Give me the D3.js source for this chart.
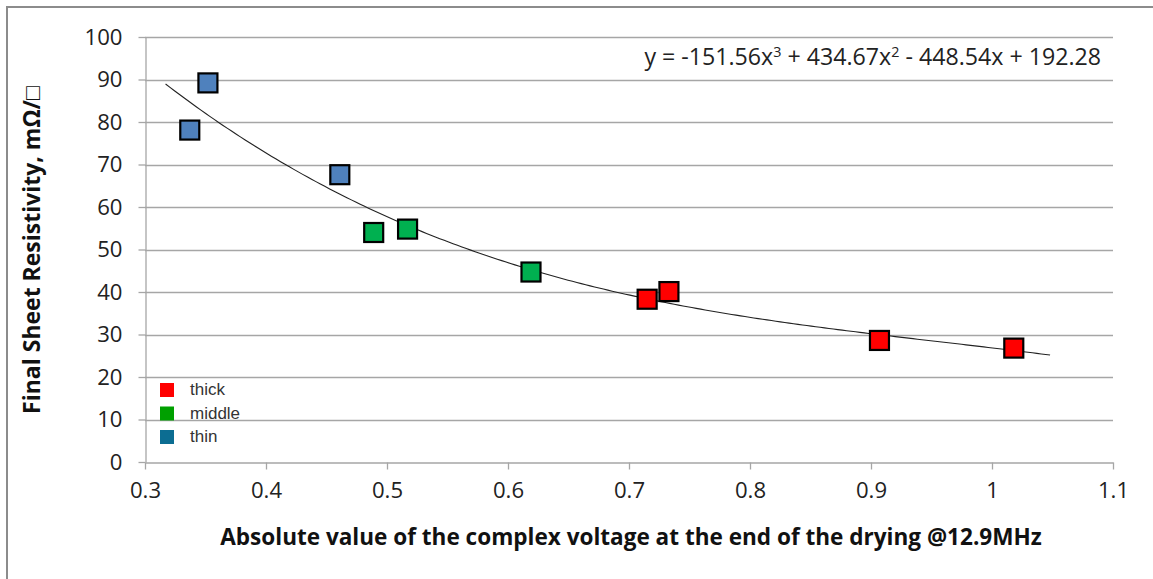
<!DOCTYPE html>
<html>
<head>
<meta charset="utf-8">
<script src="https://cdn.jsdelivr.net/npm/d3@7"></script>
<style>
  body { margin: 0; background: #fff; }
  text { font-family: "Open Sans", "Liberation Sans", sans-serif; }
</style>
</head>
<body>
<div id="chart"></div>
<script>
const width = 1153;
const height = 579;
const margin = { top: 37, right: 40, bottom: 117, left: 145 };

// data
const thinX = [0.337, 0.352, 0.461];
const thinY = [78.1, 89.2, 67.6];
const middleX = [0.489, 0.517, 0.619];
const middleY = [54.0, 54.8, 44.7];
const thickX = [0.715, 0.733, 0.907, 1.018];
const thickY = [38.3, 40.1, 28.6, 26.8];

// trendline coefficients as printed on the chart
const trendCoef = [-151.56, 434.67, -448.54, 192.28];
const trendRange = [0.317, 1.048];

const xTicks = [0.3, 0.4, 0.5, 0.6, 0.7, 0.8, 0.9, 1, 1.1];
const yTicks = [0, 10, 20, 30, 40, 50, 60, 70, 80, 90, 100];

const legendNames = ['thick', 'middle', 'thin'];
const legendColors = ['#ff0000', '#00a000', '#0c6d92'];

const series = [
    { name: 'thin', xs: thinX, ys: thinY, color: '#4f81bd' },
    { name: 'middle', xs: middleX, ys: middleY, color: '#00b050' },
    { name: 'thick', xs: thickX, ys: thickY, color: '#ff0000' }
];

// scale a text's font size so it spans the wanted width
function fitWidth(sel, target) {
    const node = sel.node();
    const size = parseFloat(sel.style('font-size'));
    const w = node.getComputedTextLength();
    const s = size * target / w;
    sel.style('font-size', s + 'px');
    return s;
}

const svg = d3.select('#chart')
    .append('svg')
    .attr('width', width)
    .attr('height', height);

// outer frame
svg.append('path')
    .attr('d', `M7,${height} V7 H${width}`)
    .attr('fill', 'none')
    .attr('stroke', '#8c8c8c')
    .attr('stroke-width', 2);

const xScale = d3.scaleLinear()
    .domain([0.3, 1.1])
    .range([margin.left, width - margin.right]);

const yScale = d3.scaleLinear()
    .domain([0, 100])
    .range([height - margin.bottom, margin.top]);

// gridlines
svg.append('g')
    .selectAll('line')
    .data(yTicks.filter(d => d > 0))
    .join('line')
    .attr('x1', margin.left)
    .attr('x2', width - margin.right)
    .attr('y1', d => Math.round(yScale(d)) + 0.5)
    .attr('y2', d => Math.round(yScale(d)) + 0.5)
    .attr('stroke', '#a6a6a6')
    .attr('stroke-width', 1.3);

// axes
const xAxis = d3.axisBottom(xScale)
    .tickValues(xTicks)
    .tickFormat(d => String(+d.toFixed(1)))
    .tickSize(7)
    .tickSizeOuter(0)
    .tickPadding(13);
const xAxisGroup = svg.append('g')
    .attr('transform', `translate(0, ${Math.round(yScale(0)) + 0.5})`)
    .call(xAxis);

const yAxis = d3.axisLeft(yScale)
    .tickValues(yTicks)
    .tickSize(7)
    .tickSizeOuter(0)
    .tickPadding(16);
const yAxisGroup = svg.append('g')
    .attr('transform', `translate(${margin.left + 0.5}, 0)`)
    .call(yAxis);

[xAxisGroup, yAxisGroup].forEach(g => {
    g.attr('font-family', null).attr('font-size', null);
    g.select('.domain').attr('stroke', '#a6a6a6').attr('stroke-width', 1.3);
    g.selectAll('.tick line').attr('stroke', '#a6a6a6').attr('stroke-width', 1.3);
    g.selectAll('.tick text')
        .attr('fill', '#222')
        .style('font-size', '20px');
});

// tick label size from the width of "100" (about 38px in the reference)
const tickSize = fitWidth(yAxisGroup.selectAll('.tick text').filter(d => d === 100), 38);
yAxisGroup.selectAll('.tick text').style('font-size', tickSize + 'px');
xAxisGroup.selectAll('.tick text').style('font-size', tickSize + 'px');

// trendline
const trend = d3.range(0, 201).map(i => {
    const x = trendRange[0] + (trendRange[1] - trendRange[0]) * i / 200;
    const y = trendCoef[0] * x ** 3 + trendCoef[1] * x ** 2 + trendCoef[2] * x + trendCoef[3];
    return [x, y];
});
svg.append('path')
    .datum(trend)
    .attr('fill', 'none')
    .attr('stroke', '#222')
    .attr('stroke-width', 1.1)
    .attr('d', d3.line().x(d => xScale(d[0])).y(d => yScale(d[1])));

// markers
const size = 19;
series.forEach(s => {
    svg.append('g')
        .selectAll('rect')
        .data(s.xs.map((x, i) => [x, s.ys[i]]))
        .join('rect')
        .attr('x', d => xScale(d[0]) - size / 2)
        .attr('y', d => yScale(d[1]) - size / 2)
        .attr('width', size)
        .attr('height', size)
        .attr('fill', s.color)
        .attr('stroke', '#000')
        .attr('stroke-width', 2.2);
});

// equation (sized so it spans ~467px like the reference)
const eqBase = 21;
const eqW = (() => {
    const t = svg.append('text').style('font-size', eqBase + 'px')
        .text('y = -151.56x3 + 434.67x2 - 448.54x + 192.28');
    const w = t.node().getComputedTextLength();
    t.remove();
    return w;
})();
const eqSize = eqBase * 467 / eqW;
const supSize = eqSize * 0.62;
const eq = svg.append('text')
    .attr('x', 1101)
    .attr('y', 65)
    .attr('text-anchor', 'end')
    .attr('fill', '#222')
    .style('font-size', eqSize + 'px');
eq.append('tspan').text('y = -151.56x');
eq.append('tspan').attr('dy', -8).style('font-size', supSize + 'px').text('3');
eq.append('tspan').attr('dy', 8).text(' + 434.67x');
eq.append('tspan').attr('dy', -8).style('font-size', supSize + 'px').text('2');
eq.append('tspan').attr('dy', 8).text(' - 448.54x + 192.28');

// legend
const legend = svg.append('g')
    .selectAll('g')
    .data(legendNames)
    .join('g')
    .attr('transform', (d, i) => `translate(160, ${383 + i * 23.5})`);
legend.append('rect')
    .attr('width', 14)
    .attr('height', 14)
    .attr('fill', (d, i) => legendColors[i]);
legend.append('text')
    .attr('x', 30)
    .attr('y', 12)
    .attr('fill', '#333')
    .style('font-family', '"Liberation Sans", Arial, sans-serif')
    .style('font-size', '17px')
    .text(d => d);

// axis titles
const xTitle = svg.append('text')
    .attr('x', 631)
    .attr('y', 545)
    .attr('text-anchor', 'middle')
    .attr('fill', '#111')
    .style('font-weight', 'bold')
    .style('font-size', '20px')
    .text('Absolute value of the complex voltage at the end of the drying @12.9MHz');
fitWidth(xTitle, 822);

const yTitle = svg.append('text')
    .attr('transform', 'translate(40, 250) rotate(-90)')
    .attr('text-anchor', 'middle')
    .attr('fill', '#111')
    .style('font-weight', 'bold')
    .style('font-size', '20px')
    .text('Final Sheet Resistivity, mΩ/□');
fitWidth(yTitle, 328);
</script>
</body>
</html>
